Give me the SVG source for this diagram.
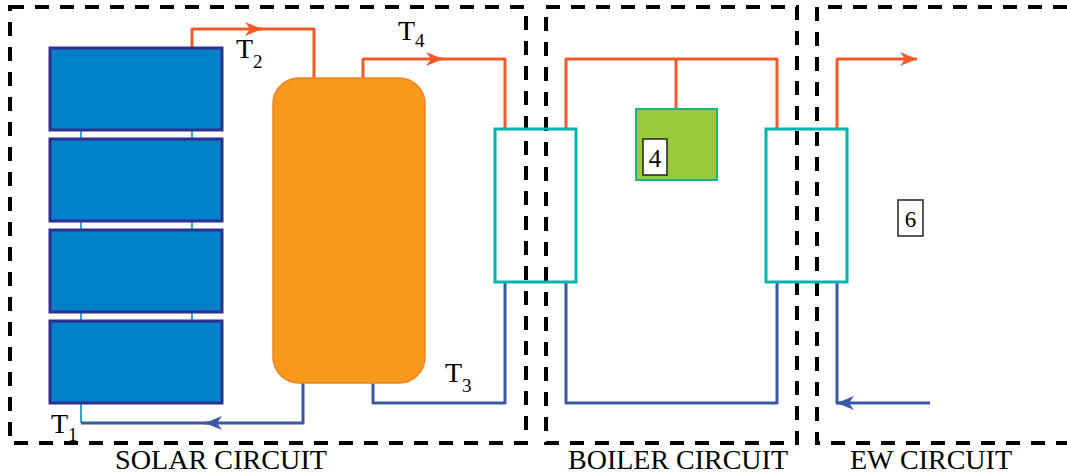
<svg xmlns="http://www.w3.org/2000/svg" width="1067" height="475" viewBox="0 0 1067 475">
<style>
.dash{fill:none;stroke:#000;stroke-width:4;stroke-dasharray:14 11}
.panel{fill:#0081C9;stroke:#2E3192;stroke-width:3}
.link{fill:none;stroke:#1E9BD7;stroke-width:1.8}
.hot{fill:none;stroke:#F15A29;stroke-width:3;stroke-linejoin:round}
.cold{fill:none;stroke:#3B57A7;stroke-width:3;stroke-linejoin:round}
.hx{fill:none;stroke:#00B3AC;stroke-width:3}
.t{fill:#000}
.lab{font-size:27px;fill:#000}
.box{fill:#fff;stroke:#222;stroke-width:1.5}
</style>
<defs>
<marker id="ah" markerUnits="userSpaceOnUse" markerWidth="20" markerHeight="16" refX="17" refY="8" orient="auto">
<path d="M17,8 L0,1 L5,8 L0,15 Z" fill="#F15A29"/>
</marker>
<marker id="ac" markerUnits="userSpaceOnUse" markerWidth="20" markerHeight="16" refX="17" refY="8" orient="auto">
<path d="M17,8 L0,1 L5,8 L0,15 Z" fill="#3B57A7"/>
</marker>
</defs>

<g id="boundaries">
<rect class="dash" x="10" y="7" width="516" height="436"/>
<rect class="dash" x="546" y="7" width="251" height="436"/>
<path class="dash" d="M1067,7 H817 V443 H1067"/>
</g>

<g id="connectors">
<path class="link" d="M81,130 V139 M192,130 V139 M81,221 V230 M192,221 V230 M81,312 V321 M192,312 V321"/>
<path class="link" d="M81,403 V423"/>
<path class="hot" d="M192,48 V29 H262" marker-end="url(#ah)"/>
<path class="hot" d="M255,29 H314 V78"/>
<path class="cold" d="M303,383 V423 H205" marker-end="url(#ac)"/>
<path class="cold" d="M212,423 H81"/>
<path class="hot" d="M363,78 V59 H443" marker-end="url(#ah)"/>
<path class="hot" d="M436,59 H505 V129"/>
<path class="cold" d="M373,383 V403 H505 V282"/>
<path class="hot" d="M566,129 V59 H777 V129 M676,59 V109"/>
<path class="cold" d="M566,282 V403 H777 V282"/>
<path class="hot" d="M837,129 V59 H917" marker-end="url(#ah)"/>
<path class="cold" d="M930,403 H837" marker-end="url(#ac)"/>
<path class="cold" d="M845,403 H837 V282"/>
</g>

<g id="panel1"><rect class="panel" x="50" y="48" width="172" height="82"/></g>
<g id="panel2"><rect class="panel" x="50" y="139" width="172" height="82"/></g>
<g id="panel3"><rect class="panel" x="50" y="230" width="172" height="82"/></g>
<g id="panel4"><rect class="panel" x="50" y="321" width="172" height="82"/></g>

<g id="tank"><rect x="273" y="78" width="152" height="305" rx="26" fill="#F7991C" stroke="#F58220" stroke-width="1.5"/></g>

<g id="hx1"><rect class="hx" x="495" y="129" width="81" height="153"/></g>
<g id="hx2"><rect class="hx" x="766" y="129" width="81" height="153"/></g>

<g font-family="'Liberation Serif', 'Times New Roman', serif">
<g id="boiler">
<rect x="636" y="109" width="81" height="71" fill="#9ACA3C" stroke="#1DB089" stroke-width="2"/>
<rect class="box" x="643" y="139" width="24" height="36"/>
<text class="t" x="655" y="167" font-size="25" text-anchor="middle">4</text>
</g>

<g id="label6">
<rect class="box" x="898" y="200" width="25" height="36"/>
<text class="t" x="910.5" y="227" font-size="23" text-anchor="middle">6</text>
</g>

<g id="temps">
<text class="t" x="236" y="58" font-size="28">T<tspan font-size="19" dy="10">2</tspan></text>
<text class="t" x="398" y="40" font-size="28">T<tspan font-size="19" dy="7">4</tspan></text>
<text class="t" x="445" y="382" font-size="28">T<tspan font-size="19" dy="10">3</tspan></text>
<text class="t" x="51" y="433" font-size="28">T<tspan font-size="19" dy="8">1</tspan></text>
</g>

<g id="labels">
<text class="lab" x="115" y="469" textLength="212" lengthAdjust="spacingAndGlyphs">SOLAR CIRCUIT</text>
<text class="lab" x="568" y="469" textLength="220" lengthAdjust="spacingAndGlyphs">BOILER CIRCUIT</text>
<text class="lab" x="850" y="469" textLength="162" lengthAdjust="spacingAndGlyphs">EW CIRCUIT</text>
</g>
</g>
</svg>
